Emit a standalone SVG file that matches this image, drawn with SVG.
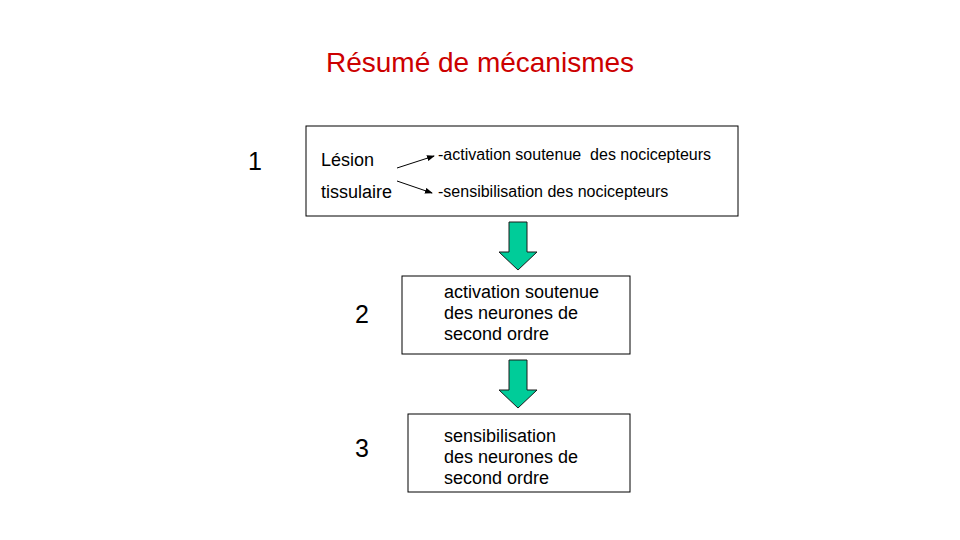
<svg xmlns="http://www.w3.org/2000/svg" width="960" height="540" viewBox="0 0 960 540">
<style>
text{font-family:"Liberation Sans",Arial,sans-serif;fill:#000;white-space:pre}
.box{fill:#fff;stroke:#000;stroke-width:1}
.big{fill:#00CC99;stroke:#1a1a1a;stroke-width:1}
.t18{font-size:18px}
.t16{font-size:16px}
.num{font-size:25px}
</style>
<defs>
<marker id="ah" markerWidth="8" markerHeight="6" refX="7" refY="3" orient="auto" markerUnits="userSpaceOnUse">
<path d="M0,0 L8,3 L0,6 Z" fill="#000"/>
</marker>
</defs>
<rect width="960" height="540" fill="#fff"/>
<text x="480" y="72" text-anchor="middle" style="font-size:28px;fill:#CC0000">Résumé de mécanismes</text>
<text class="num" x="248" y="170">1</text>
<text class="num" x="355" y="323">2</text>
<text class="num" x="355" y="457">3</text>
<g id="node1">
<rect class="box" x="306" y="126" width="432" height="90"/>
<text class="t18" x="321" y="166">Lésion</text>
<text class="t18" x="321" y="198">tissulaire</text>
<text class="t16" x="438" y="160" xml:space="preserve">-activation soutenue  des nocicepteurs</text>
<text class="t16" x="438" y="197">-sensibilisation des nocicepteurs</text>
</g>
<g id="node2">
<rect class="box" x="402" y="276" width="228" height="78"/>
<text class="t18" x="444" y="298">activation soutenue</text>
<text class="t18" x="444" y="319">des neurones de</text>
<text class="t18" x="444" y="340">second ordre</text>
</g>
<g id="node3">
<rect class="box" x="408" y="414" width="222" height="78"/>
<text class="t18" x="444" y="442">sensibilisation</text>
<text class="t18" x="444" y="463">des neurones de</text>
<text class="t18" x="444" y="484">second ordre</text>
</g>
<g id="connectors">
<line x1="397" y1="168" x2="434" y2="156" stroke="#000" stroke-width="1" marker-end="url(#ah)"/>
<line x1="397" y1="181" x2="432" y2="193" stroke="#000" stroke-width="1" marker-end="url(#ah)"/>
<path class="big" d="M509,222 H527 V252 H537 L518,270 L499,252 H509 Z"/>
<path class="big" d="M509,360 H527 V390 H537 L518,408 L499,390 H509 Z"/>
</g>
</svg>
